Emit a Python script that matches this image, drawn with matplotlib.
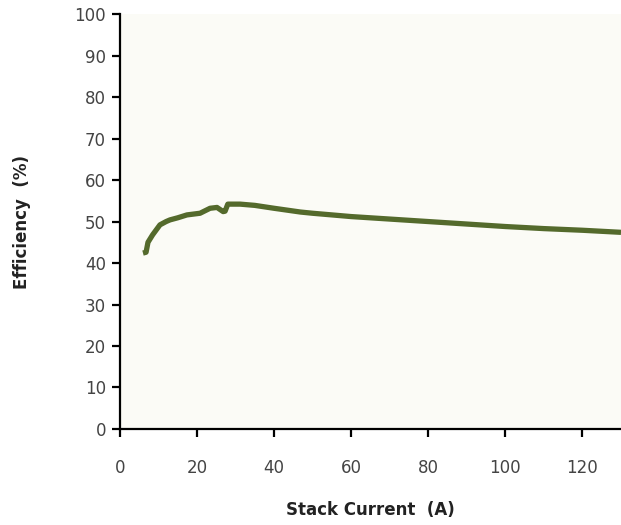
import matplotlib.pyplot as plt

# stack current (A) vs efficiency (%)
current = [6.0, 6.8, 7.3, 8.5, 10.4, 12.0, 13.0, 15.0, 17.4, 20.8, 23.4, 25.2,
           26.8, 27.3, 28.0, 31.2, 35.0, 40.0, 46.8, 50.0, 60.0, 70.0, 80.0,
           90.0, 100.0, 110.0, 120.0, 130.0]
efficiency = [42.4, 42.6, 45.0, 46.8, 49.2, 50.0, 50.4, 50.9, 51.6, 52.0, 53.2,
              53.4, 52.4, 52.5, 54.2, 54.2, 53.9, 53.2, 52.3, 52.0, 51.2, 50.6,
              50.0, 49.4, 48.8, 48.3, 47.9, 47.4]

fig = plt.figure(figsize=(6.21, 5.25), dpi=100)
ax = fig.add_axes([0.193, 0.183, 0.807, 0.79])
ax.set_facecolor("#fbfbf6")

ax.plot(current, efficiency, color="#546a2c", linewidth=3.8, solid_capstyle="butt")

ax.set_xlim(0, 130)
ax.set_ylim(0, 100)
ax.set_xticks(range(0, 121, 20))
ax.set_yticks(range(0, 101, 10))

for s in ["top", "right"]:
    ax.spines[s].set_visible(False)
for s in ["left", "bottom"]:
    ax.spines[s].set_linewidth(1.6)
ax.tick_params(direction="out", length=6, width=1.6, labelsize=12,
               labelcolor="#444444", pad=16)
ax.tick_params(axis="y", pad=4)

ax.set_xlabel("Stack Current  (A)", fontsize=12, fontweight="bold",
              color="#222222", labelpad=17)
ax.set_ylabel("Efficiency  (%)", fontsize=12, fontweight="bold",
              color="#222222", labelpad=31)

fig.savefig("out.png", dpi=100)
